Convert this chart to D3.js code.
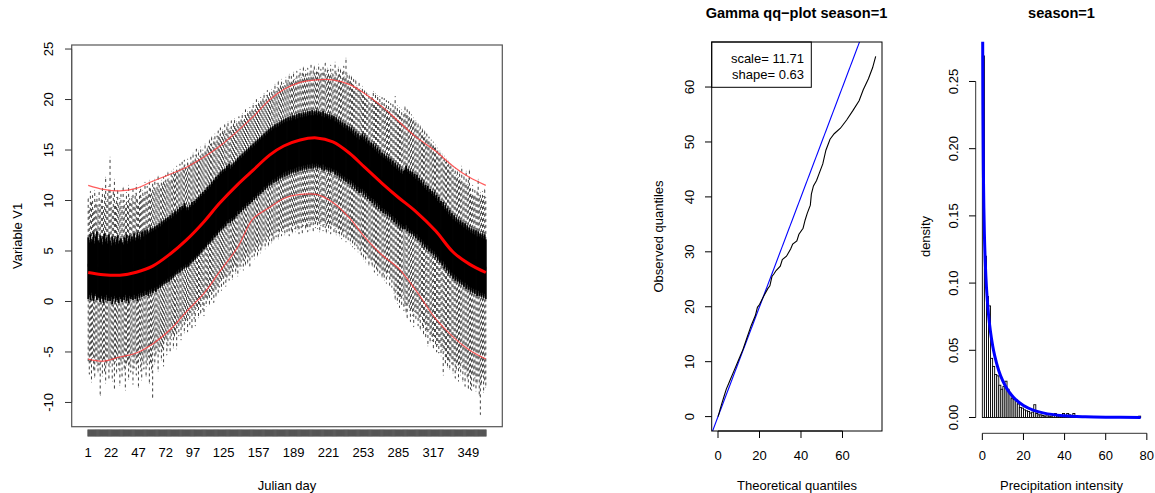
<!DOCTYPE html>
<html><head><meta charset="utf-8">
<script src="https://cdn.jsdelivr.net/npm/d3@7"></script>
<style>body{margin:0;background:#fff}svg{display:block}text{font-family:"Liberation Sans",Arial,Helvetica,sans-serif;fill:#000}</style>
</head><body><svg id="c" width="1155" height="493"></svg>
<script>
// ---------- Left panel: daily boxplots of Variable V1 ----------
const dayLo=[-5.9,-7.2,-6.1,-8.0,-5.6,-6.8,-7.5,-5.8,-6.4,-7.0,
-6.3,-9.3,-6.0,-7.4,-5.7,-6.9,-8.1,-6.2,-5.9,-7.6,
-6.5,-5.8,-7.9,-6.2,-8.6,-6.0,-7.1,-5.5,-6.7,-8.3,
-6.1,-7.4,-5.7,-6.8,-8.8,-6.3,-5.9,-7.7,-6.4,-7.0,
-5.5,-8.2,-6.6,-5.8,-7.3,-6.1,-8.5,-5.6,-6.9,-7.8,
-5.9,-6.7,-5.2,-7.4,-6.3,-5.5,-8.1,-6.0,-7.0,-9.5,
-4.8,-6.2,-5.3,-4.6,-6.9,-5.0,-4.4,-5.8,-4.9,-6.4,
-4.1,-3.6,-5.3,-4.4,-3.2,-4.9,-3.8,-3.1,-4.6,-3.5,
-3.0,-4.7,-2.6,-3.4,-2.1,-3.8,-2.5,-1.9,-3.1,-2.2,
-1.8,-3.0,-1.4,-2.3,-1.1,-2.6,-0.9,-1.7,-2.4,-0.7,
-0.9,-1.6,-0.3,-1.2,0.1,-0.8,-1.4,0.4,-0.5,0.2,
0.6,-0.3,1.0,0.2,0.8,-0.1,1.3,0.5,1.6,0.9,
1.4,2.0,1.1,2.3,1.7,2.6,1.5,2.2,2.9,2.1,
2.6,3.3,2.2,3.0,3.7,2.8,3.4,2.5,3.9,3.2,
3.5,4.2,3.1,4.0,3.6,4.6,3.8,4.4,3.5,4.8,
4.4,5.1,4.2,4.9,5.4,4.5,5.0,5.7,4.8,5.3,
5.6,6.1,5.2,5.9,6.4,5.5,6.0,6.6,5.8,6.3,
6.1,6.8,6.4,7.0,6.2,6.7,7.3,6.5,6.9,7.2,
6.6,7.4,6.9,7.1,6.5,7.6,7.0,6.8,7.5,7.2,
6.9,7.6,7.1,6.7,7.8,7.3,6.8,7.5,7.9,7.2,
7.4,6.9,7.8,7.1,7.6,8.0,7.0,7.7,7.3,7.9,
7.2,7.8,6.9,7.5,7.9,7.0,7.6,7.3,6.8,7.7,
7.0,7.5,6.7,7.3,7.8,6.9,7.2,6.6,7.4,6.8,
6.5,7.1,6.2,6.8,6.4,7.0,5.9,6.5,6.1,6.6,
5.7,6.3,5.4,6.0,5.2,5.8,5.5,4.9,5.6,5.0,
4.6,5.3,4.2,4.9,3.9,4.7,4.4,3.6,4.3,3.8,
3.5,4.1,2.9,3.7,3.2,2.6,3.5,2.8,3.3,2.4,
2.7,2.1,3.0,1.8,2.5,2.9,1.6,2.3,1.4,2.0,
0.8,0.2,1.1,-0.2,0.5,-0.6,0.3,-0.3,0.6,-0.9,
-0.4,-1.1,-1.6,-0.2,-0.9,-2.0,-0.7,-1.4,-2.5,-1.0,
-1.7,-1.2,-2.4,-1.8,-2.8,-1.5,-2.6,-3.2,-2.1,-3.5,
-3.0,-4.4,-2.8,-4.0,-3.4,-3.9,-4.6,-3.5,-4.2,-5.0,
-4.3,-5.1,-4.1,-5.4,-4.8,-7.3,-5.0,-6.1,-5.5,-6.5,
-5.8,-6.7,-5.5,-6.2,-7.1,-5.9,-7.6,-6.8,-6.3,-7.9,
-6.6,-7.3,-6.1,-7.9,-6.7,-8.4,-7.0,-7.6,-8.6,-7.3,
-8.7,-8.8,-7.2,-8.4,-7.6,-8.9,-8.1,-7.4,-9.3,-11.2,
-8.2,-7.4,-9.0,-7.8,-8.5];
const dayQ1=[0.3,0.7,0.2,0.9,0.4,0.1,0.6,0.8,0.2,0.5,
0.4,0.0,0.6,0.3,-0.1,0.5,0.2,0.7,0.1,0.4,
0.1,0.5,-0.2,0.3,0.6,0.0,0.4,0.2,-0.1,0.5,
0.3,0.0,0.5,0.2,0.7,0.1,0.4,-0.1,0.6,0.3,
0.5,0.2,0.7,0.3,0.6,0.1,0.8,0.4,0.9,0.5,
0.9,0.6,1.1,0.7,1.0,0.6,1.2,0.8,1.3,0.9,
1.1,1.4,1.0,1.5,1.3,1.7,1.4,1.8,1.6,2.0,
1.8,2.1,1.9,2.3,2.0,2.5,2.2,2.6,2.4,2.8,
2.7,3.0,2.8,3.2,2.9,3.4,3.1,3.5,3.3,3.7,
3.4,3.7,3.5,3.9,3.8,4.2,4.0,4.4,4.2,4.6,
4.5,4.8,4.7,5.1,4.9,5.3,5.2,5.5,5.4,5.9,
5.7,6.0,5.9,6.3,6.1,6.6,6.4,6.8,6.6,7.1,
6.9,7.3,7.1,7.5,7.3,7.7,7.5,8.0,7.8,8.2,
7.8,8.3,8.0,8.4,8.2,8.6,8.5,9.0,8.7,9.1,
8.9,9.4,9.1,9.5,9.3,9.8,9.5,9.9,9.7,10.1,
9.9,10.4,10.1,10.5,10.3,10.8,10.5,10.9,10.7,11.1,
10.9,11.4,11.1,11.5,11.3,11.8,11.5,11.9,11.6,12.1,
11.8,12.2,11.9,12.4,12.0,12.5,12.2,12.6,12.3,12.8,
12.4,12.9,12.5,13.0,12.6,13.1,12.7,13.1,12.8,13.2,
12.8,13.3,12.9,13.4,13.0,13.4,13.0,13.5,13.1,13.5,
13.1,13.6,13.2,13.6,13.2,13.7,13.2,13.6,13.3,13.7,
13.2,13.6,13.3,13.5,13.1,13.6,13.0,13.4,13.1,13.3,
12.9,13.3,12.8,13.2,12.9,13.1,12.6,13.0,12.5,12.8,
12.3,12.7,12.2,12.5,12.0,12.4,11.9,12.2,11.7,12.1,
11.6,12.0,11.4,11.8,11.2,11.6,11.0,11.4,10.8,11.2,
10.8,11.2,10.6,11.0,10.4,10.8,10.2,10.5,10.0,10.3,
9.8,10.2,9.6,10.0,9.4,9.8,9.2,9.6,9.0,9.3,
8.8,9.2,8.7,9.0,8.5,8.9,8.4,8.7,8.1,8.5,
7.9,8.3,7.7,8.1,7.5,7.9,7.3,7.7,7.2,7.5,
7.2,7.6,7.0,7.3,6.8,7.1,6.7,7.0,6.5,6.8,
6.3,6.7,6.1,6.4,5.9,6.2,5.6,6.0,5.4,5.7,
5.2,5.6,5.0,5.3,4.8,5.1,4.6,5.0,4.4,4.7,
4.1,4.5,3.9,4.1,3.6,4.0,3.3,3.7,3.1,3.4,
2.8,3.2,2.6,2.9,2.3,2.7,2.1,2.5,2.0,2.3,
1.8,2.2,1.7,2.0,1.5,1.9,1.3,1.7,1.2,1.5,
1.0,1.4,0.9,1.3,0.8,1.2,0.6,1.1,0.6,0.9,
0.5,0.9,0.4,0.8,0.3];
const dayMed=[3.6,3.1,3.9,2.8,3.4,3.7,3.0,3.5,3.9,3.2,
3.0,3.6,3.3,2.7,3.5,3.8,3.1,3.4,2.9,3.6,
3.2,2.8,3.5,3.0,3.4,2.7,3.3,3.6,2.9,3.1,
3.4,3.0,2.8,3.5,3.2,3.7,2.9,3.3,3.6,3.0,
3.5,3.2,3.8,3.1,3.4,3.9,3.3,3.6,3.2,3.8,
3.9,3.5,4.0,3.6,4.1,3.7,3.8,4.3,3.9,4.2,
4.0,4.4,4.1,4.5,4.2,4.6,4.3,4.8,4.5,4.9,
4.7,5.1,4.8,5.2,5.0,5.4,5.1,5.6,5.3,5.7,
5.8,5.5,6.0,5.7,6.2,5.9,6.3,6.1,6.6,6.3,
6.4,6.6,6.3,6.9,6.7,7.1,6.8,7.3,7.0,7.4,
7.3,7.6,7.5,8.0,7.7,8.1,7.9,8.4,8.2,8.6,
8.5,8.9,8.7,9.2,8.9,9.4,9.2,9.6,9.4,9.9,
9.8,10.2,9.9,10.4,10.1,10.5,10.3,10.8,10.6,11.0,
10.7,11.1,10.9,11.3,11.0,11.5,11.3,11.8,11.5,12.0,
11.8,12.2,11.9,12.4,12.1,12.6,12.3,12.8,12.5,13.0,
12.8,13.2,12.9,13.4,13.1,13.6,13.3,13.8,13.5,14.0,
13.8,14.2,13.9,14.4,14.1,14.6,14.3,14.8,14.4,14.9,
14.6,15.0,14.7,15.2,14.9,15.3,15.0,15.5,15.1,15.6,
15.3,15.7,15.4,15.9,15.5,15.8,15.4,16.0,15.7,16.1,
15.6,16.1,15.8,16.2,15.9,16.3,15.8,16.4,16.0,16.2,
15.9,16.4,16.0,16.5,16.1,16.3,15.9,16.6,16.2,16.4,
16.0,16.5,16.1,16.3,15.9,16.4,15.8,16.2,15.9,16.1,
15.7,16.1,15.6,16.0,15.7,15.9,15.4,15.8,15.3,15.6,
15.1,15.5,15.0,15.3,14.8,15.2,14.7,15.0,14.5,14.9,
14.4,14.8,14.2,14.6,14.0,14.4,13.8,14.2,13.6,14.0,
13.7,13.9,13.5,13.6,13.3,13.5,13.1,13.2,12.9,13.1,
12.7,12.9,12.5,12.6,12.3,12.5,12.1,12.2,11.9,12.1,
11.7,11.9,11.5,11.6,11.4,11.5,11.2,11.4,11.0,11.1,
10.8,11.0,10.6,10.8,10.4,10.6,10.2,10.4,10.1,10.3,
10.2,10.4,10.0,10.1,9.8,10.0,9.7,9.9,9.5,9.6,
9.3,9.5,9.1,9.2,8.9,9.1,8.6,8.8,8.4,8.5,
8.2,8.4,8.0,8.1,7.8,8.0,7.6,7.8,7.4,7.5,
7.1,7.4,6.9,7.0,6.6,6.8,6.3,6.5,6.1,6.3,
5.8,6.0,5.6,5.7,5.3,5.5,5.1,5.4,5.0,5.2,
4.8,5.0,4.7,4.9,4.5,4.7,4.3,4.6,4.2,4.4,
4.0,4.3,3.9,4.1,3.8,4.0,3.6,3.9,3.5,3.8,
3.5,3.7,3.4,3.6,3.3];
const dayQ3=[6.3,5.8,6.6,5.9,6.1,6.8,5.7,6.4,6.9,6.0,
5.8,6.5,6.2,5.6,6.4,6.7,5.9,6.3,5.7,6.6,
6.0,5.5,6.4,5.8,6.2,5.6,6.1,6.5,5.7,6.0,
6.2,5.8,5.6,6.3,6.0,6.6,5.7,6.2,6.5,5.9,
6.4,6.1,6.7,6.0,6.3,6.8,6.2,6.6,6.1,6.8,
6.9,6.4,7.0,6.6,7.1,6.7,6.8,7.3,6.9,7.2,
7.0,7.4,7.1,7.5,7.3,7.7,7.4,7.9,7.6,8.0,
7.8,8.2,7.9,8.3,8.1,8.5,8.2,8.7,8.4,8.8,
8.9,8.6,9.1,8.8,9.3,9.0,9.4,9.2,9.7,9.4,
9.0,9.3,9.0,9.5,9.3,9.8,9.5,9.9,9.7,10.1,
10.0,10.3,10.2,10.6,10.4,10.8,10.6,11.0,10.9,11.3,
11.1,11.5,11.3,11.8,11.6,12.0,11.9,12.3,12.1,12.5,
12.4,12.8,12.6,13.0,12.8,13.1,12.9,13.4,13.2,13.6,
13.1,13.5,13.3,13.7,13.5,13.9,13.8,14.2,14.0,14.4,
14.2,14.6,14.4,14.8,14.6,15.0,14.8,15.2,15.0,15.4,
15.2,15.6,15.4,15.8,15.6,16.0,15.8,16.2,16.0,16.4,
16.2,16.6,16.4,16.8,16.6,17.0,16.8,17.2,16.9,17.3,
17.1,17.5,17.2,17.6,17.3,17.7,17.5,17.9,17.6,18.0,
17.7,18.1,17.8,18.2,17.9,18.3,17.9,18.4,18.1,18.4,
18.0,18.5,18.1,18.6,18.2,18.6,18.2,18.7,18.3,18.7,
18.3,18.8,18.4,18.8,18.4,18.9,18.4,18.8,18.5,18.9,
18.4,18.8,18.5,18.7,18.3,18.8,18.2,18.6,18.3,18.5,
18.1,18.5,18.0,18.4,18.1,18.3,17.8,18.2,17.7,18.0,
17.5,17.9,17.4,17.7,17.2,17.6,17.1,17.4,16.9,17.3,
16.8,17.2,16.6,17.0,16.4,16.8,16.2,16.6,16.0,16.4,
16.2,16.6,16.0,16.4,15.8,16.2,15.6,15.9,15.4,15.7,
15.2,15.6,15.0,15.4,14.8,15.2,14.6,15.0,14.4,14.7,
14.2,14.6,14.1,14.4,13.9,14.3,13.8,14.1,13.5,13.9,
13.3,13.7,13.1,13.5,12.9,13.3,12.7,13.1,12.6,12.9,
13.0,13.4,12.8,13.1,12.6,12.9,12.5,12.8,12.3,12.6,
12.1,12.5,11.9,12.2,11.7,12.0,11.4,11.8,11.2,11.5,
11.0,11.4,10.8,11.1,10.6,10.9,10.4,10.8,10.2,10.5,
9.9,10.3,9.7,9.9,9.4,9.8,9.1,9.5,8.9,9.2,
8.6,9.0,8.4,8.7,8.1,8.5,7.9,8.3,7.8,8.1,
7.6,8.0,7.5,7.8,7.3,7.7,7.1,7.5,7.0,7.3,
6.8,7.2,6.7,7.1,6.6,7.0,6.4,6.9,6.4,6.7,
6.3,6.7,6.2,6.6,6.1];
const dayHi=[10.2,9.3,10.9,9.8,10.5,9.1,11.0,9.9,10.4,9.5,
10.8,9.6,10.1,11.2,9.4,10.6,12.3,9.9,10.7,11.4,
14.3,10.5,9.3,10.9,12.1,9.7,10.3,11.0,9.5,10.2,
10.6,9.4,11.3,10.0,9.6,10.8,9.9,11.5,10.2,9.7,
10.4,11.1,9.8,10.7,11.6,10.1,9.7,10.9,11.3,10.3,
11.0,10.5,11.8,10.8,11.4,10.6,12.0,11.2,10.7,11.9,
11.3,12.1,11.0,11.7,12.4,11.5,11.2,12.0,11.6,12.3,
11.9,12.5,11.7,12.8,12.2,11.8,12.9,12.4,13.1,12.6,
12.7,13.4,12.9,13.0,13.6,12.8,13.8,13.3,14.0,13.5,
13.2,14.1,13.6,13.4,14.3,13.8,14.7,13.9,14.5,15.1,
14.2,14.9,14.4,15.3,14.6,15.0,14.5,15.6,14.9,15.2,
15.4,16.0,15.6,16.3,15.3,16.1,16.6,15.8,16.4,16.9,
16.5,17.2,16.3,17.0,16.8,17.5,16.6,17.3,17.8,17.1,
17.2,17.9,17.0,17.6,18.1,17.3,17.8,17.4,18.3,17.7,
18.0,18.6,17.9,18.4,19.0,18.2,18.8,18.5,19.2,18.7,
19.0,19.6,18.9,19.4,20.0,19.2,19.8,19.5,20.2,19.7,
20.1,20.6,19.9,20.4,20.9,20.2,20.7,20.3,21.0,20.5,
20.9,21.5,20.8,21.2,21.8,21.0,21.4,22.0,21.3,21.6,
21.4,22.2,21.7,21.9,22.5,21.6,22.3,21.8,22.7,22.0,
22.1,22.8,21.9,22.4,23.0,22.2,22.6,23.2,22.3,22.9,
22.5,23.1,22.2,22.8,23.4,22.4,22.9,23.3,22.6,23.0,
22.7,23.5,22.4,23.0,22.6,23.2,22.8,23.6,22.5,23.1,
22.9,22.3,23.4,22.6,23.0,22.4,23.7,22.8,22.2,23.2,
22.5,23.0,22.1,22.7,23.3,22.3,24.1,22.6,21.9,22.4,
21.8,22.3,21.5,22.0,21.2,21.9,21.4,20.9,21.6,21.1,
20.6,21.3,20.4,20.9,20.1,20.7,19.9,20.5,19.6,20.2,
20.2,20.8,19.9,20.6,19.8,20.4,19.7,20.3,19.6,20.2,
19.5,20.1,19.2,19.9,19.1,19.8,19.0,19.6,18.8,19.5,
19.0,20.3,18.7,19.4,18.5,19.2,18.3,19.0,18.1,18.8,
19.3,18.6,19.0,18.3,18.8,18.0,18.5,17.8,18.2,17.6,
17.9,17.3,17.6,17.0,17.4,16.8,17.1,16.5,16.9,16.3,
16.6,16.0,16.3,15.7,16.0,15.4,15.8,15.2,15.5,14.9,
15.2,14.6,14.9,14.3,14.6,14.0,14.4,13.8,14.1,13.5,
13.9,13.3,13.6,13.0,13.4,12.7,13.2,12.5,12.9,12.3,
12.8,12.1,13.4,11.8,12.4,11.7,12.9,11.6,12.2,13.0,
11.2,10.6,11.5,10.4,11.0,10.3,10.9,12.1,10.5,10.8,
10.2,10.9,10.4,11.1,10.3];
const dayLabels=[1,22,47,72,97,125,157,189,221,253,285,317,349];
const leftYTicks=[-10,-5,0,5,10,15,20,25];
// seasonal mean and mean +/- 2 sd (red curves), read at sample days
const redDay  =[1,15,30,45,60,76,91,107,121,138,152,167,180,195,210,225,240,254,270,285,301,319,335,350,365];
const redMean =[2.87,2.65,2.6,2.9,3.5,4.7,6.1,7.9,9.7,11.6,13.0,14.5,15.4,16.0,16.2,15.8,14.7,13.3,11.7,10.3,8.9,7.0,4.9,3.7,2.87];
const redUpper=[11.5,11.1,10.95,11.2,11.9,12.6,13.3,14.3,15.35,16.9,18.3,19.97,21.0,21.7,21.95,21.95,21.5,20.6,19.3,17.85,16.3,14.9,13.4,12.3,11.5];
const redLower=[-5.7,-5.9,-5.5,-5.1,-4.2,-2.8,-1.0,0.8,2.9,5.4,8.2,9.3,10.2,10.6,10.6,9.8,8.3,6.4,4.6,3.3,1.1,-1.7,-3.5,-4.8,-5.7];

// ---------- Middle panel: gamma qq-plot ----------
const qqTheo=[0,0.5,1,2,3,4,5,6,8,10,12,14,16,18,19,20,22,24,25,26,27,28,30,31,33,35,36,38,39,41,42,43,44.5,45,46,47.5,49,50.5,52,54,56,59,62,65,68,70,72.5,74.5,76];
const qqObs =[0,0.6,1.3,2.6,3.8,5.0,5.9,6.8,8.6,10.4,12.2,14.4,16.6,18.4,19.9,20.4,21.9,23.3,23.8,25.5,26.0,26.6,27.4,28.6,29.2,30.5,31.4,32.0,33.2,34.3,35.8,37.0,38.5,40.5,42.0,43.0,44.5,46.0,48.5,50.5,51.5,52.5,54.0,55.7,57.5,59.5,61.5,63.5,65.6];
const qqTicks=[0,10,20,30,40,50,60];
const qqXTicks=[0,20,40,60];
const qqLegend=["scale= 11.71","shape= 0.63"];

// ---------- Right panel: histogram + fitted gamma density ----------
const histDensity=[0.269,0.120,0.090,0.083,0.044,0.038,0.032,0.031,0.024,0.021,
0.023,0.027,0.021,0.018,0.014,0.0135,0.013,0.010,0.0075,0.007,
0.0057,0.005,0.0045,0.0033,0.004,0.0095,0.003,0.002,0.002,0.0015,
0.001,0.002,0.001,0.001,0.0015,0.003,0.001,0.0005,0.0005,0.003,
0.0005,0.003,0.002,0.0005,0.003,0.0005,0,0.0005,0,0,
0.0005,0.0005,0,0,0.0005,0,0,0,0,0,
0,0.0005,0,0,0,0,0,0,0.0005,0,
0,0,0,0,0,0.0005,0.001];
const densX=[0.05,0.1,0.2,0.3,0.5,0.75,1,1.5,2,3,4,5,6,8,10,12,15,20,25,30,40,50,60,77];
const densY=[0.449,0.346,0.266,0.2266,0.184,0.1554,0.1367,0.1128,0.0971,0.0768,0.0634,0.0536,0.046,0.0348,0.027,0.0213,0.0152,0.0089,0.00535,0.00326,0.00125,0.00049,0.00019,0.00004];
const histYTicks=[0,0.05,0.10,0.15,0.20,0.25];
const histXTicks=[0,20,40,60,80];

const svg=d3.select("#c");
const FS=13;

function vText(g,x,y,t,opts={}){
  return g.append("text").attr("transform",`translate(${x},${y}) rotate(-90)`)
   .attr("text-anchor","middle").attr("font-size",opts.size||FS).text(t);
}

// ===== Left panel =====
{
  const n=dayMed.length;
  const days=d3.range(1,n+1);
  const x=d3.scaleLinear().domain([0.5-0.04*n,n+0.5+0.04*n]).range([71.7,502.3]);
  const y=d3.scaleLinear().domain([-12.4,25.4]).range([426.7,45]);
  const g=svg.append("g");
  const bw=0.8*(x(2)-x(1));
  // whiskers (dashed)
  const wh=g.append("g").attr("stroke","#151515").attr("stroke-opacity",0.82)
    .attr("stroke-width",1).attr("stroke-dasharray","3,3");
  wh.selectAll("line.u").data(days).join("line").attr("class","u")
    .attr("x1",d=>x(d)).attr("x2",d=>x(d))
    .attr("y1",d=>y(dayQ3[d-1])).attr("y2",d=>y(dayHi[d-1]));
  wh.selectAll("line.l").data(days).join("line").attr("class","l")
    .attr("x1",d=>x(d)).attr("x2",d=>x(d))
    .attr("y1",d=>y(dayQ1[d-1])).attr("y2",d=>y(dayLo[d-1]));
  // staples
  const st=g.append("g").attr("stroke","#000").attr("stroke-opacity",0.7);
  st.selectAll("line.h").data(days).join("line").attr("class","h")
    .attr("x1",d=>x(d)-bw/4).attr("x2",d=>x(d)+bw/4)
    .attr("y1",d=>y(dayHi[d-1])).attr("y2",d=>y(dayHi[d-1]));
  st.selectAll("line.o").data(days).join("line").attr("class","o")
    .attr("x1",d=>x(d)-bw/4).attr("x2",d=>x(d)+bw/4)
    .attr("y1",d=>y(dayLo[d-1])).attr("y2",d=>y(dayLo[d-1]));
  // boxes
  g.append("g").selectAll("rect").data(days).join("rect")
    .attr("x",d=>x(d)-bw/2).attr("width",bw)
    .attr("y",d=>y(dayQ3[d-1])).attr("height",d=>y(dayQ1[d-1])-y(dayQ3[d-1]))
    .attr("fill","none").attr("stroke","#000").attr("stroke-width",1);
  // medians
  g.append("g").selectAll("line").data(days).join("line")
    .attr("x1",d=>x(d)-bw/2).attr("x2",d=>x(d)+bw/2)
    .attr("y1",d=>y(dayMed[d-1])).attr("y2",d=>y(dayMed[d-1]))
    .attr("stroke","#000").attr("stroke-width",3);
  // red curves
  const mk=arr=>d3.line().x((d,i)=>x(redDay[i])).y(d=>y(d)).curve(d3.curveCatmullRom.alpha(0.5))(arr);
  g.append("path").attr("d",mk(redUpper)).attr("fill","none").attr("stroke","#ff4040").attr("stroke-opacity",0.85).attr("stroke-width",1.2);
  g.append("path").attr("d",mk(redLower)).attr("fill","none").attr("stroke","#ff4040").attr("stroke-opacity",0.85).attr("stroke-width",1.2);
  g.append("path").attr("d",mk(redMean)).attr("fill","none").attr("stroke","#ff0000").attr("stroke-width",3);
  // frame
  g.append("rect").attr("x",x.range()[0]).attr("y",y.range()[1])
    .attr("width",x.range()[1]-x.range()[0]).attr("height",y.range()[0]-y.range()[1])
    .attr("fill","none").attr("stroke","#555").attr("stroke-width",1.2);
  // x axis: one tick per day
  g.append("g").selectAll("line").data(days).join("line")
    .attr("x1",d=>x(d)).attr("x2",d=>x(d)).attr("y1",429.5).attr("y2",436.5)
    .attr("stroke","#555").attr("stroke-width",1.7);
  g.append("g").selectAll("text").data(dayLabels).join("text")
    .attr("x",d=>x(d)).attr("y",456.7).attr("text-anchor","middle").attr("font-size",FS).text(d=>d);
  g.append("text").attr("x",(x.range()[0]+x.range()[1])/2).attr("y",489.5)
    .attr("text-anchor","middle").attr("font-size",FS).text("Julian day");
  // y axis
  const ya=g.append("g");
  ya.append("line").attr("x1",71.7).attr("x2",71.7).attr("y1",y(-10)).attr("y2",y(25)).attr("stroke","#555");
  ya.selectAll("line.t").data(leftYTicks).join("line").attr("class","t")
    .attr("x1",65).attr("x2",71.7).attr("y1",d=>y(d)).attr("y2",d=>y(d)).attr("stroke","#333");
  leftYTicks.forEach(t=>vText(ya,53,y(t),String(t)));
  vText(g,22,y.range()[1]/2+y.range()[0]/2,"Variable V1");
}

// ===== Middle panel =====
{
  const x=d3.scaleLinear().domain([-3.04,79.04]).range([711.7,882]);
  const y=d3.scaleLinear().domain([-2.62,68.2]).range([431,42]);
  const g=svg.append("g");
  svg.append("clipPath").attr("id","qqclip").append("rect")
    .attr("x",711.7).attr("y",42).attr("width",882-711.7).attr("height",431-42);
  const pg=g.append("g").attr("clip-path","url(#qqclip)");
  pg.append("line").attr("x1",x(-3.04)).attr("y1",y(-3.04)).attr("x2",x(80)).attr("y2",y(80))
    .attr("stroke","#0000ff").attr("stroke-width",1.1);
  pg.append("path").attr("d",d3.line().x((d,i)=>x(qqTheo[i])).y(d=>y(d))(qqObs))
    .attr("fill","none").attr("stroke","#000").attr("stroke-width",1.1);
  // legend
  g.append("rect").attr("x",711.7).attr("y",42).attr("width",99.6).attr("height",45.3)
    .attr("fill","#fff").attr("stroke","#000").attr("stroke-width",1);
  qqLegend.forEach((t,i)=>g.append("text").attr("x",804).attr("y",63+i*15.5)
    .attr("text-anchor","end").attr("font-size",FS).text(t));
  g.append("rect").attr("x",711.7).attr("y",42).attr("width",882-711.7).attr("height",431-42)
    .attr("fill","none").attr("stroke","#000").attr("stroke-width",1);
  // axes
  g.append("line").attr("x1",x(0)).attr("x2",x(60)).attr("y1",431).attr("y2",431).attr("stroke","#000");
  g.selectAll("line.xt").data(qqXTicks).join("line").attr("class","xt")
    .attr("x1",d=>x(d)).attr("x2",d=>x(d)).attr("y1",431).attr("y2",438).attr("stroke","#000");
  g.selectAll("text.xl").data(qqXTicks).join("text").attr("class","xl")
    .attr("x",d=>x(d)).attr("y",459.7).attr("text-anchor","middle").attr("font-size",FS).text(d=>d);
  g.selectAll("line.yt").data(qqTicks).join("line").attr("class","yt")
    .attr("x1",705).attr("x2",711.7).attr("y1",d=>y(d)).attr("y2",d=>y(d)).attr("stroke","#000");
  qqTicks.forEach(t=>vText(g,694,y(t),String(t)));
  g.append("text").attr("x",797).attr("y",490).attr("text-anchor","middle").attr("font-size",FS).text("Theoretical quantiles");
  vText(g,663,236.5,"Observed quantiles");
  g.append("text").attr("x",796.5).attr("y",18).attr("text-anchor","middle")
    .attr("font-size",14.6).attr("font-weight","bold").text("Gamma qq\u2212plot season=1");
}

// ===== Right panel =====
{
  const x=d3.scaleLinear().domain([-3.08,80.08]).range([976,1147]);
  const y=d3.scaleLinear().domain([-0.01176,0.2796]).range([433.3,41.7]);
  const g=svg.append("g");
  svg.append("clipPath").attr("id","hclip").append("rect")
    .attr("x",976).attr("y",41.7).attr("width",171).attr("height",433.3-41.7);
  const bins=d3.range(histDensity.length);
  g.append("g").selectAll("rect").data(bins).join("rect")
    .attr("x",i=>x(i)).attr("width",i=>x(i+1)-x(i))
    .attr("y",i=>y(histDensity[i])).attr("height",i=>y(0)-y(histDensity[i]))
    .attr("fill","#fff").attr("stroke","#000").attr("stroke-width",0.9);
  g.append("g").attr("clip-path","url(#hclip)").append("path")
    .attr("d",d3.line().x((d,i)=>x(densX[i])).y(d=>y(d)).curve(d3.curveMonotoneX)(densY))
    .attr("fill","none").attr("stroke","#0000ff").attr("stroke-width",3);
  // axes
  g.append("line").attr("x1",975.7).attr("x2",975.7).attr("y1",y(0)).attr("y2",y(0.25)).attr("stroke","#333");
  g.selectAll("line.yt").data(histYTicks).join("line").attr("class","yt")
    .attr("x1",969).attr("x2",975.7).attr("y1",d=>y(d)).attr("y2",d=>y(d)).attr("stroke","#000");
  histYTicks.forEach(t=>vText(g,958,y(t),t.toFixed(2)));
  g.append("line").attr("x1",x(0)).attr("x2",x(80)).attr("y1",433.3).attr("y2",433.3).attr("stroke","#333");
  g.selectAll("line.xt").data(histXTicks).join("line").attr("class","xt")
    .attr("x1",d=>x(d)).attr("x2",d=>x(d)).attr("y1",433.3).attr("y2",440).attr("stroke","#000");
  g.selectAll("text.xl").data(histXTicks).join("text").attr("class","xl")
    .attr("x",d=>x(d)).attr("y",459.7).attr("text-anchor","middle").attr("font-size",FS).text(d=>d);
  g.append("text").attr("x",1061.5).attr("y",490).attr("text-anchor","middle").attr("font-size",FS).text("Precipitation intensity");
  vText(g,930,236.5,"density");
  g.append("text").attr("x",1061.5).attr("y",18).attr("text-anchor","middle")
    .attr("font-size",14.6).attr("font-weight","bold").text("season=1");
}
</script></body></html>
